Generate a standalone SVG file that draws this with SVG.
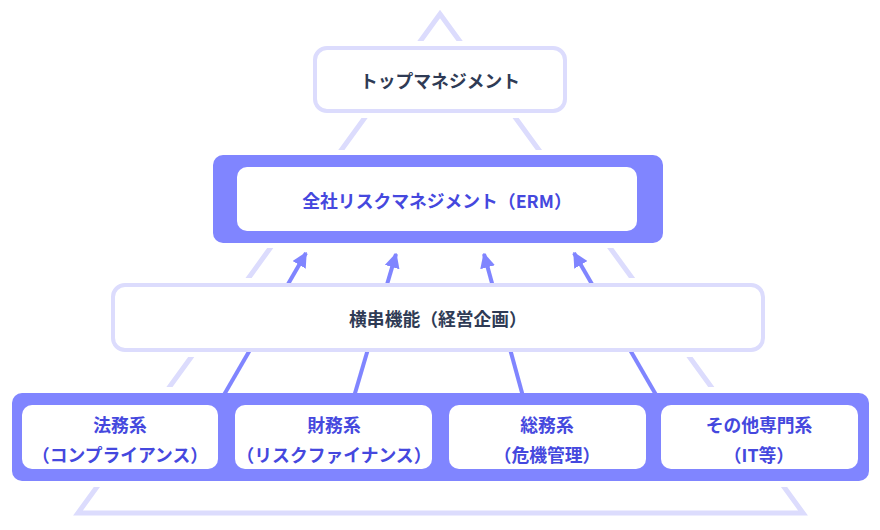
<svg xmlns="http://www.w3.org/2000/svg" width="880" height="530" viewBox="0 0 880 530">
<defs>
<style>
.tri{fill:none;stroke:#dcdcfd;stroke-width:5;stroke-linejoin:miter}
.halo{fill:#fff}
.light{fill:#fff;stroke:#dcdcfd;stroke-width:4}
.solid{fill:#8085ff}
.inner{fill:#fff}
.arrow{fill:none;stroke:#8085ff;stroke-width:4}
text{font-family:"Noto Sans CJK JP","Noto Sans",sans-serif;font-weight:700;font-size:17.8px;text-anchor:middle;dominant-baseline:central}
.dark{fill:#2f3b55}
.blue{fill:#4548de}
</style>
<marker id="ah" viewBox="0 0 10 10" refX="9" refY="5" markerWidth="3.8" markerHeight="3.8" markerUnits="strokeWidth" orient="auto">
<path d="M0,0 L10,5 L0,10 Z" fill="#8085ff"/>
</marker>
</defs>
<rect width="880" height="530" fill="#fff"/>
<g id="pyramid">
<path class="tri" d="M440,14 L803,513 L78,513 Z"/>
<rect class="halo" x="308" y="41" width="264" height="77" rx="16"/>
<rect class="halo" x="208" y="150" width="460" height="98" rx="14"/>
<rect class="halo" x="106" y="278" width="664" height="79" rx="16"/>
<rect class="halo" x="6" y="387" width="869" height="100" rx="14"/>
</g>
<g id="connectors">
<line class="arrow" x1="221" y1="400" x2="306" y2="253" marker-end="url(#ah)"/>
<line class="arrow" x1="353" y1="400" x2="396" y2="254" marker-end="url(#ah)"/>
<line class="arrow" x1="524" y1="400" x2="484" y2="254" marker-end="url(#ah)"/>
<line class="arrow" x1="659" y1="400" x2="574" y2="253" marker-end="url(#ah)"/>
</g>
<g id="top-management">
<rect class="light" x="315" y="48" width="250" height="63" rx="12"/>
<text class="dark" x="440" y="80">トップマネジメント</text>
</g>
<g id="erm">
<rect class="solid" x="213" y="155" width="450" height="88" rx="10"/>
<rect class="inner" x="237" y="167" width="400" height="64" rx="10"/>
<text class="blue" x="437" y="200">全社リスクマネジメント（ERM）</text>
</g>
<g id="cross-function">
<rect class="light" x="113" y="285" width="650" height="65" rx="12"/>
<text class="dark" x="438" y="318">横串機能（経営企画）</text>
</g>
<g id="specialists">
<rect class="solid" x="12" y="393" width="857" height="88" rx="10"/>
</g>
<g id="legal">
<rect class="inner" x="22" y="405" width="196" height="64" rx="10"/>
<text class="blue" x="120" y="424">法務系</text>
<text class="blue" x="120" y="454">（コンプライアンス）</text>
</g>
<g id="finance">
<rect class="inner" x="235" y="405" width="197" height="64" rx="10"/>
<text class="blue" x="334" y="424">財務系</text>
<text class="blue" x="334" y="454">（リスクファイナンス）</text>
</g>
<g id="general-affairs">
<rect class="inner" x="449" y="405" width="197" height="64" rx="10"/>
<text class="blue" x="547" y="424">総務系</text>
<text class="blue" x="547" y="454">（危機管理）</text>
</g>
<g id="other">
<rect class="inner" x="661" y="405" width="197" height="64" rx="10"/>
<text class="blue" x="759" y="424">その他専門系</text>
<text class="blue" x="759" y="454">（IT等）</text>
</g>
</svg>
